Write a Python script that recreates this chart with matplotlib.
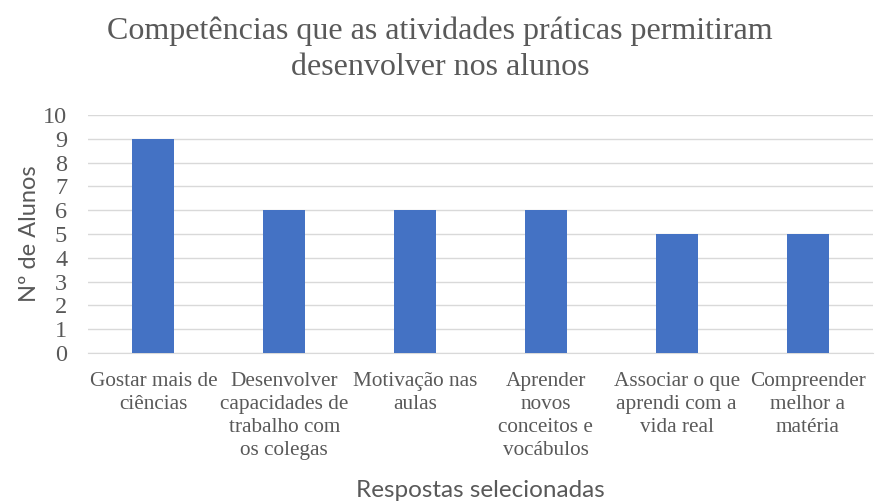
import matplotlib
matplotlib.use("Agg")
import matplotlib.pyplot as plt

categories = ["Gostar mais de\nciências",
              "Desenvolver\ncapacidades de\ntrabalho com\nos colegas",
              "Motivação nas\naulas",
              "Aprender\nnovos\nconceitos e\nvocábulos",
              "Associar o que\naprendi com a\nvida real",
              "Compreender\nmelhor a\nmatéria"]
values = [9, 6, 6, 6, 5, 5]
yticks = list(range(0, 11))

fig = plt.figure(figsize=(8.75, 5.01), dpi=100)
ax = fig.add_axes([88/875, 1-353/501, (873-88)/875, (353-115)/501])

x = list(range(len(categories)))
ax.bar(x, values, width=0.32, color="#4472C4", zorder=3)
ax.set_xlim(-0.5, len(categories)-0.5)
ax.set_ylim(0, 10)
ax.set_yticks(yticks)
ax.grid(axis="y", color="#D9D9D9", linewidth=1.0, zorder=0)
for s in ["top", "right", "left"]:
    ax.spines[s].set_visible(False)
ax.spines["bottom"].set_color("#D9D9D9")
ax.tick_params(length=0)
ax.set_xticks(x)
ax.set_xticklabels(categories, fontfamily="Liberation Serif", fontsize=15.3,
                   color="#595959", linespacing=1.28)
for lab in ax.get_yticklabels():
    lab.set_fontfamily("Liberation Serif")
    lab.set_fontsize(17.5)
    lab.set_color("#595959")
ax.tick_params(axis="x", pad=14)
ax.tick_params(axis="y", pad=15)

ax.set_ylabel("Nº de Alunos", fontfamily="Lato", fontsize=17, color="#595959", labelpad=2)
ax.set_xlabel("Respostas selecionadas", fontfamily="Lato", fontsize=17.5, color="#595959", labelpad=14)

fig.text(0.503, 0.902, "Competências que as atividades práticas permitiram\ndesenvolver nos alunos",
         ha="center", va="center", fontfamily="Liberation Serif", fontsize=23,
         color="#595959", linespacing=1.3)

fig.savefig("out.png", dpi=100)
